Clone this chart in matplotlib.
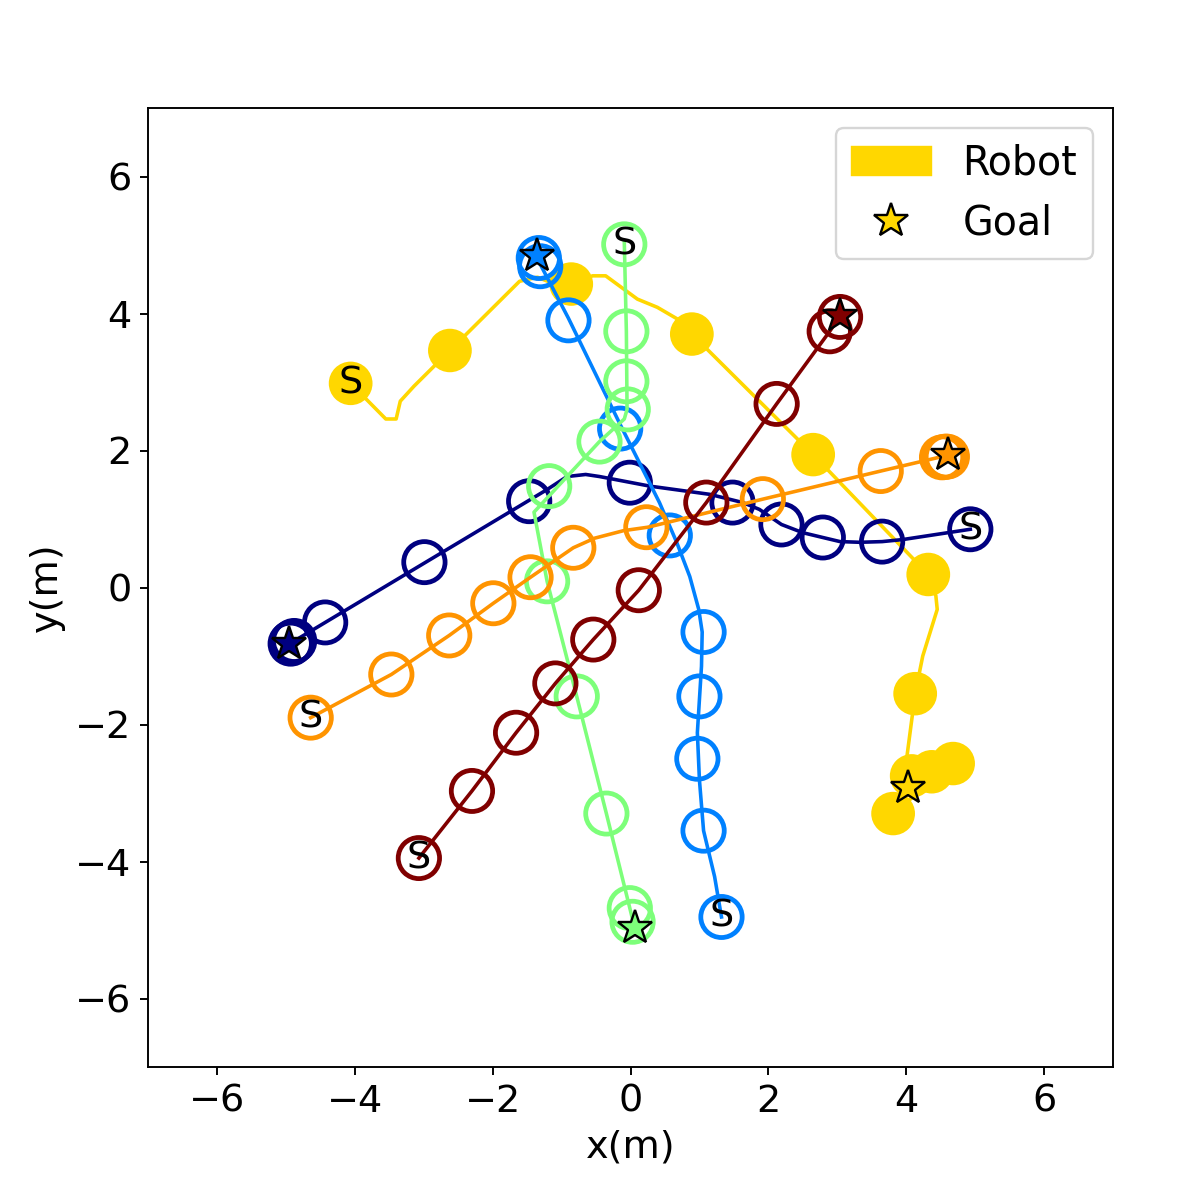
import numpy as np
import matplotlib
matplotlib.use('Agg')
import matplotlib.pyplot as plt
import matplotlib.lines as mlines

# robot trajectory (line vertices) and the disks drawn along it
robot_line_x = [-4.06, -3.55, -3.40, -3.34, -3.14, -2.62, -1.61, -1.35, -1.20, -0.86, -0.55, -0.36,
                0.10, 0.39, 0.68, 0.89, 2.65, 4.32, 4.43, 4.45, 4.24, 4.13, 4.01, 4.08, 4.37, 4.68, 3.81]
robot_line_y = [2.98, 2.46, 2.46, 2.72, 2.94, 3.46, 4.47, 4.53, 4.47, 4.43, 4.55, 4.55,
                4.21, 4.09, 3.92, 3.70, 1.94, 0.19, -0.12, -0.32, -1.00, -1.55, -2.47, -2.75, -2.69, -2.57, -3.30]
robot_disk_x = [-4.06, -2.62, -0.86, 0.89, 2.65, 4.32, 4.13, 4.08, 4.37, 4.68, 3.81]
robot_disk_y = [2.98, 3.46, 4.43, 3.70, 1.94, 0.19, -1.55, -2.75, -2.69, -2.57, -3.30]
robot_goal = (4.03, -2.93)

# human 1 (navy)
h1_line_x = [4.93, 3.95, 3.65, 3.33, 3.04, 2.79, 2.50, 2.19, 1.87, 1.63, 1.15, 0.28, -0.45, -0.65, -0.92, -1.21, -4.91]
h1_line_y = [0.85, 0.70, 0.67, 0.66, 0.67, 0.73, 0.80, 0.92, 1.14, 1.24, 1.36, 1.48, 1.62, 1.65, 1.62, 1.43, -0.80]
h1_disk_x = [4.93, 3.65, 2.79, 2.19, 1.48, -0.01, -1.47, -2.99, -4.43, -4.88, -4.91, -4.93]
h1_disk_y = [0.85, 0.67, 0.73, 0.92, 1.24, 1.53, 1.26, 0.37, -0.51, -0.78, -0.80, -0.82]
h1_goal = (-4.96, -0.83)

# human 2 (blue)
h2_line_x = [1.32, 1.22, 1.06, 1.00, 0.97, 1.03, 1.04, 0.99, 0.86, 0.67, 0.42, -0.15, -0.90, -1.31]
h2_line_y = [-4.81, -4.22, -3.55, -2.81, -2.12, -1.15, -0.65, -0.32, 0.16, 0.66, 1.24, 2.38, 3.93, 4.72]
h2_disk_x = [1.32, 1.06, 0.97, 1.00, 1.06, 0.57, -0.15, -0.90, -1.31, -1.33]
h2_disk_y = [-4.81, -3.55, -2.50, -1.59, -0.65, 0.76, 2.32, 3.90, 4.69, 4.81]
h2_goal = (-1.35, 4.84)

# human 3 (green)
h3_line_x = [-0.09, -0.06, -0.05, -0.09, -0.45, -1.40, -1.21, -0.78, -0.35, -0.01, 0.06]
h3_line_y = [5.04, 3.74, 2.60, 2.46, 2.13, 1.10, 0.09, -1.59, -3.30, -4.68, -4.97]
h3_disk_x = [-0.09, -0.06, -0.06, -0.04, -0.45, -1.18, -1.21, -0.78, -0.35, -0.01, 0.03]
h3_disk_y = [5.01, 3.74, 3.01, 2.60, 2.13, 1.48, 0.09, -1.59, -3.30, -4.68, -4.88]
h3_goal = (0.06, -4.97)

# human 4 (orange)
h4_line_x = [-4.64, -3.47, -2.63, -1.99, -1.45, -0.83, -0.52, -0.10, 0.25, 1.92, 3.63, 4.60]
h4_line_y = [-1.90, -1.27, -0.70, -0.23, 0.15, 0.58, 0.72, 0.83, 0.88, 1.29, 1.70, 1.93]
h4_disk_x = [-4.64, -3.47, -2.63, -1.99, -1.45, -0.83, 0.23, 1.92, 3.63, 4.52, 4.57, 4.59]
h4_disk_y = [-1.90, -1.27, -0.70, -0.23, 0.15, 0.58, 0.88, 1.29, 1.70, 1.90, 1.91, 1.91]
h4_goal = (4.61, 1.94)

# human 5 (dark red)
h5_line_x = [-3.07, -2.30, -1.66, -1.09, -0.54, 0.12, 1.10, 2.12, 2.89, 3.04]
h5_line_y = [-3.95, -2.97, -2.12, -1.40, -0.76, -0.04, 1.24, 2.68, 3.74, 3.96]
h5_disk_x = [-3.07, -2.30, -1.66, -1.09, -0.54, 0.12, 1.10, 2.12, 2.89, 3.04]
h5_disk_y = [-3.95, -2.97, -2.12, -1.40, -0.76, -0.04, 1.24, 2.68, 3.74, 3.95]
h5_goal = (3.04, 3.96)

robot_color = 'gold'
radius = 0.3
fs = 16

dpi = 172
fig = plt.figure(figsize=(1196 / dpi, 1204 / dpi), dpi=dpi)
ax = fig.add_axes([148 / 1196, 1 - 1067 / 1204, 965 / 1196, 959 / 1204])
ax.set_xlim(-7, 7)
ax.set_ylim(-7, 7)
ax.tick_params(labelsize=fs)
ax.set_xlabel('x(m)', fontsize=fs)
ax.set_ylabel('y(m)', fontsize=fs)

# robot
ax.plot(robot_line_x, robot_line_y, color=robot_color, lw=1.5, zorder=1)
for x, y in zip(robot_disk_x, robot_disk_y):
    ax.add_patch(plt.Circle((x, y), radius, fill=True, color=robot_color, zorder=2))
ax.text(robot_disk_x[0], robot_disk_y[0], 'S', fontsize=fs, ha='center', va='center', zorder=6)
ax.plot(*robot_goal, marker='*', color=robot_color, markeredgecolor='black',
        markersize=15, linestyle='None', zorder=5)

humans = [
    (h1_line_x, h1_line_y, h1_disk_x, h1_disk_y, h1_goal),
    (h2_line_x, h2_line_y, h2_disk_x, h2_disk_y, h2_goal),
    (h3_line_x, h3_line_y, h3_disk_x, h3_disk_y, h3_goal),
    (h4_line_x, h4_line_y, h4_disk_x, h4_disk_y, h4_goal),
    (h5_line_x, h5_line_y, h5_disk_x, h5_disk_y, h5_goal),
]
colors = plt.cm.jet(np.linspace(0, 1, len(humans)))

for (lx, ly, dx, dy, goal), c in zip(humans, colors):
    ax.plot(lx, ly, color=c, lw=1.5, zorder=3)
    for x, y in zip(dx, dy):
        ax.add_patch(plt.Circle((x, y), radius, fill=False, color=c, lw=2, zorder=3))
    ax.text(dx[0], dy[0], 'S', fontsize=fs, ha='center', va='center', zorder=6)
    ax.plot(*goal, marker='*', color=c, markeredgecolor='black',
            markersize=15, linestyle='None', zorder=5)

robot_handle = plt.Circle((0, 0), radius, fill=True, color=robot_color)
goal_handle = mlines.Line2D([], [], color=robot_color, marker='*', markeredgecolor='black',
                            linestyle='None', markersize=15)
ax.legend([robot_handle, goal_handle], ['Robot', 'Goal'], fontsize=16.6, loc='upper right')

fig.savefig('out.png', dpi=dpi)
